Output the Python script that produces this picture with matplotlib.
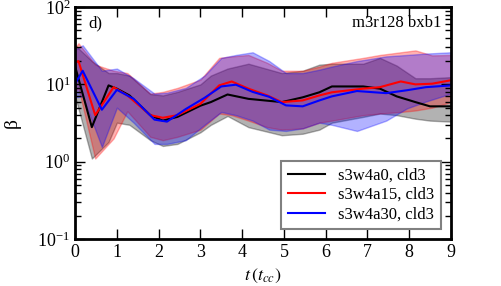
import matplotlib
matplotlib.use("Agg")
import matplotlib.pyplot as plt

plt.rcParams['font.family'] = 'serif'
plt.rcParams['font.serif'] = ['Liberation Serif', 'DejaVu Serif']
plt.rcParams['mathtext.fontset'] = 'stix'
plt.rcParams['font.size'] = 12

# s3w4a0, cld3 (black)
t_a0 = [0, 0.4, 0.8, 1.0, 1.3, 1.8, 2.1, 2.45, 3.0, 3.25, 3.65, 4.15, 4.95, 5.45, 5.85, 6.15, 6.9, 7.3, 7.7, 8.15, 8.5, 9.0]
beta_a0 = [17, 2.8, 9.7, 8.8, 7.2, 4.0, 3.4, 3.8, 5.3, 5.9, 7.4, 6.5, 5.9, 6.8, 7.9, 9.4, 9.4, 8.8, 7.0, 5.9, 5.2, 5.2]
up_a0 = [32, 20, 14, 14, 13, 7.5, 7.2, 8.0, 10, 13, 16, 18.5, 14, 15, 18, 18.5, 18.5, 22, 17.5, 12, 12, 12.4]
lo_a0 = [7, 1.1, 1.8, 3.2, 3.0, 1.9, 1.6, 1.7, 2.4, 3.0, 3.9, 2.8, 2.2, 2.3, 2.6, 3.2, 3.8, 4.2, 4.0, 3.6, 3.4, 3.3]

# s3w4a15, cld3 (red)
t_a15 = [0, 0.08, 0.48, 0.92, 1.25, 1.8, 2.1, 2.45, 3.0, 3.45, 3.75, 4.15, 4.6, 4.95, 5.45, 5.85, 6.15, 6.9, 7.3, 7.8, 8.15, 8.55, 9.0]
beta_a15 = [19, 20, 4.0, 9.2, 7.2, 4.0, 3.7, 4.0, 5.6, 9.7, 10.9, 8.8, 7.2, 5.9, 6.2, 7.2, 7.9, 8.8, 9.2, 10.9, 10.0, 10.2, 11.3]
up_a15 = [30, 34, 18, 15, 14, 7.6, 8.0, 9.0, 11.5, 22, 23, 24, 19, 15, 15, 17, 19, 22, 24, 26, 27.5, 23.7, 24]
lo_a15 = [8, 9, 1.1, 2.0, 4.5, 2.1, 1.9, 2.1, 2.6, 4.2, 4.0, 3.4, 2.8, 2.6, 2.7, 3.2, 3.4, 4.0, 4.2, 4.4, 4.6, 5.0, 5.9]

# s3w4a30, cld3 (blue)
t_a30 = [0, 0.18, 0.64, 1.0, 1.4, 1.9, 2.2, 2.65, 3.1, 3.5, 3.85, 4.25, 4.65, 5.05, 5.45, 5.85, 6.15, 6.75, 7.45, 7.95, 8.4, 9.0]
beta_a30 = [10.2, 15, 4.7, 8.5, 6.5, 3.5, 3.3, 4.8, 6.7, 9.4, 9.9, 8.0, 6.9, 5.35, 5.2, 6.2, 7.0, 8.2, 7.7, 8.4, 9.2, 9.7]
up_a30 = [28, 32, 15, 16, 12, 7.6, 7.8, 9.0, 13, 22, 24, 26, 20, 14, 14, 15.5, 17, 20, 23, 24, 25, 26]
lo_a30 = [6.8, 7, 1.55, 5.0, 3.2, 1.7, 1.7, 1.9, 3.0, 4.4, 4.0, 3.4, 2.6, 2.5, 2.7, 3.2, 3.0, 2.5, 3.4, 4.9, 6.0, 7.6]

fig = plt.figure(figsize=(5.01, 2.86), dpi=100)
ax = fig.add_axes([0.15, 0.164, 0.75, 0.8115])

ax.fill_between(t_a0, lo_a0, up_a0, color='black', alpha=0.3, lw=1)
ax.fill_between(t_a15, lo_a15, up_a15, color='red', alpha=0.3, lw=1)
ax.fill_between(t_a30, lo_a30, up_a30, color='blue', alpha=0.3, lw=1)

ax.plot(t_a0, beta_a0, color='black', lw=1.5, label='s3w4a0, cld3')
ax.plot(t_a15, beta_a15, color='red', lw=1.5, label='s3w4a15, cld3')
ax.plot(t_a30, beta_a30, color='blue', lw=1.5, label='s3w4a30, cld3')

ax.set_yscale('log')
ax.set_xlim(0, 9)
ax.set_ylim(0.1, 100)
ax.set_xticks(range(0, 10))
ax.set_xlabel(r'$t\,(t_{cc})$', fontsize=13)
ax.set_ylabel('β', fontsize=14, labelpad=12)

ax.tick_params(which='both', direction='in', top=True, right=True, labelsize=13)
ax.tick_params(which='major', length=7, width=1)
ax.tick_params(which='minor', length=4, width=1)
for sp in ax.spines.values():
    sp.set_linewidth(2)

ax.text(0.035, 0.93, 'd)', transform=ax.transAxes, ha='left', va='center')
ax.text(0.975, 0.93, 'm3r128 bxb1', transform=ax.transAxes, ha='right', va='center')

leg = ax.legend(loc='lower right', fancybox=False, framealpha=1, edgecolor='gray',
                handlelength=2.2, borderaxespad=0.6, labelspacing=0.2)
leg.get_frame().set_linewidth(1.5)

plt.savefig('out.png', dpi=100)
